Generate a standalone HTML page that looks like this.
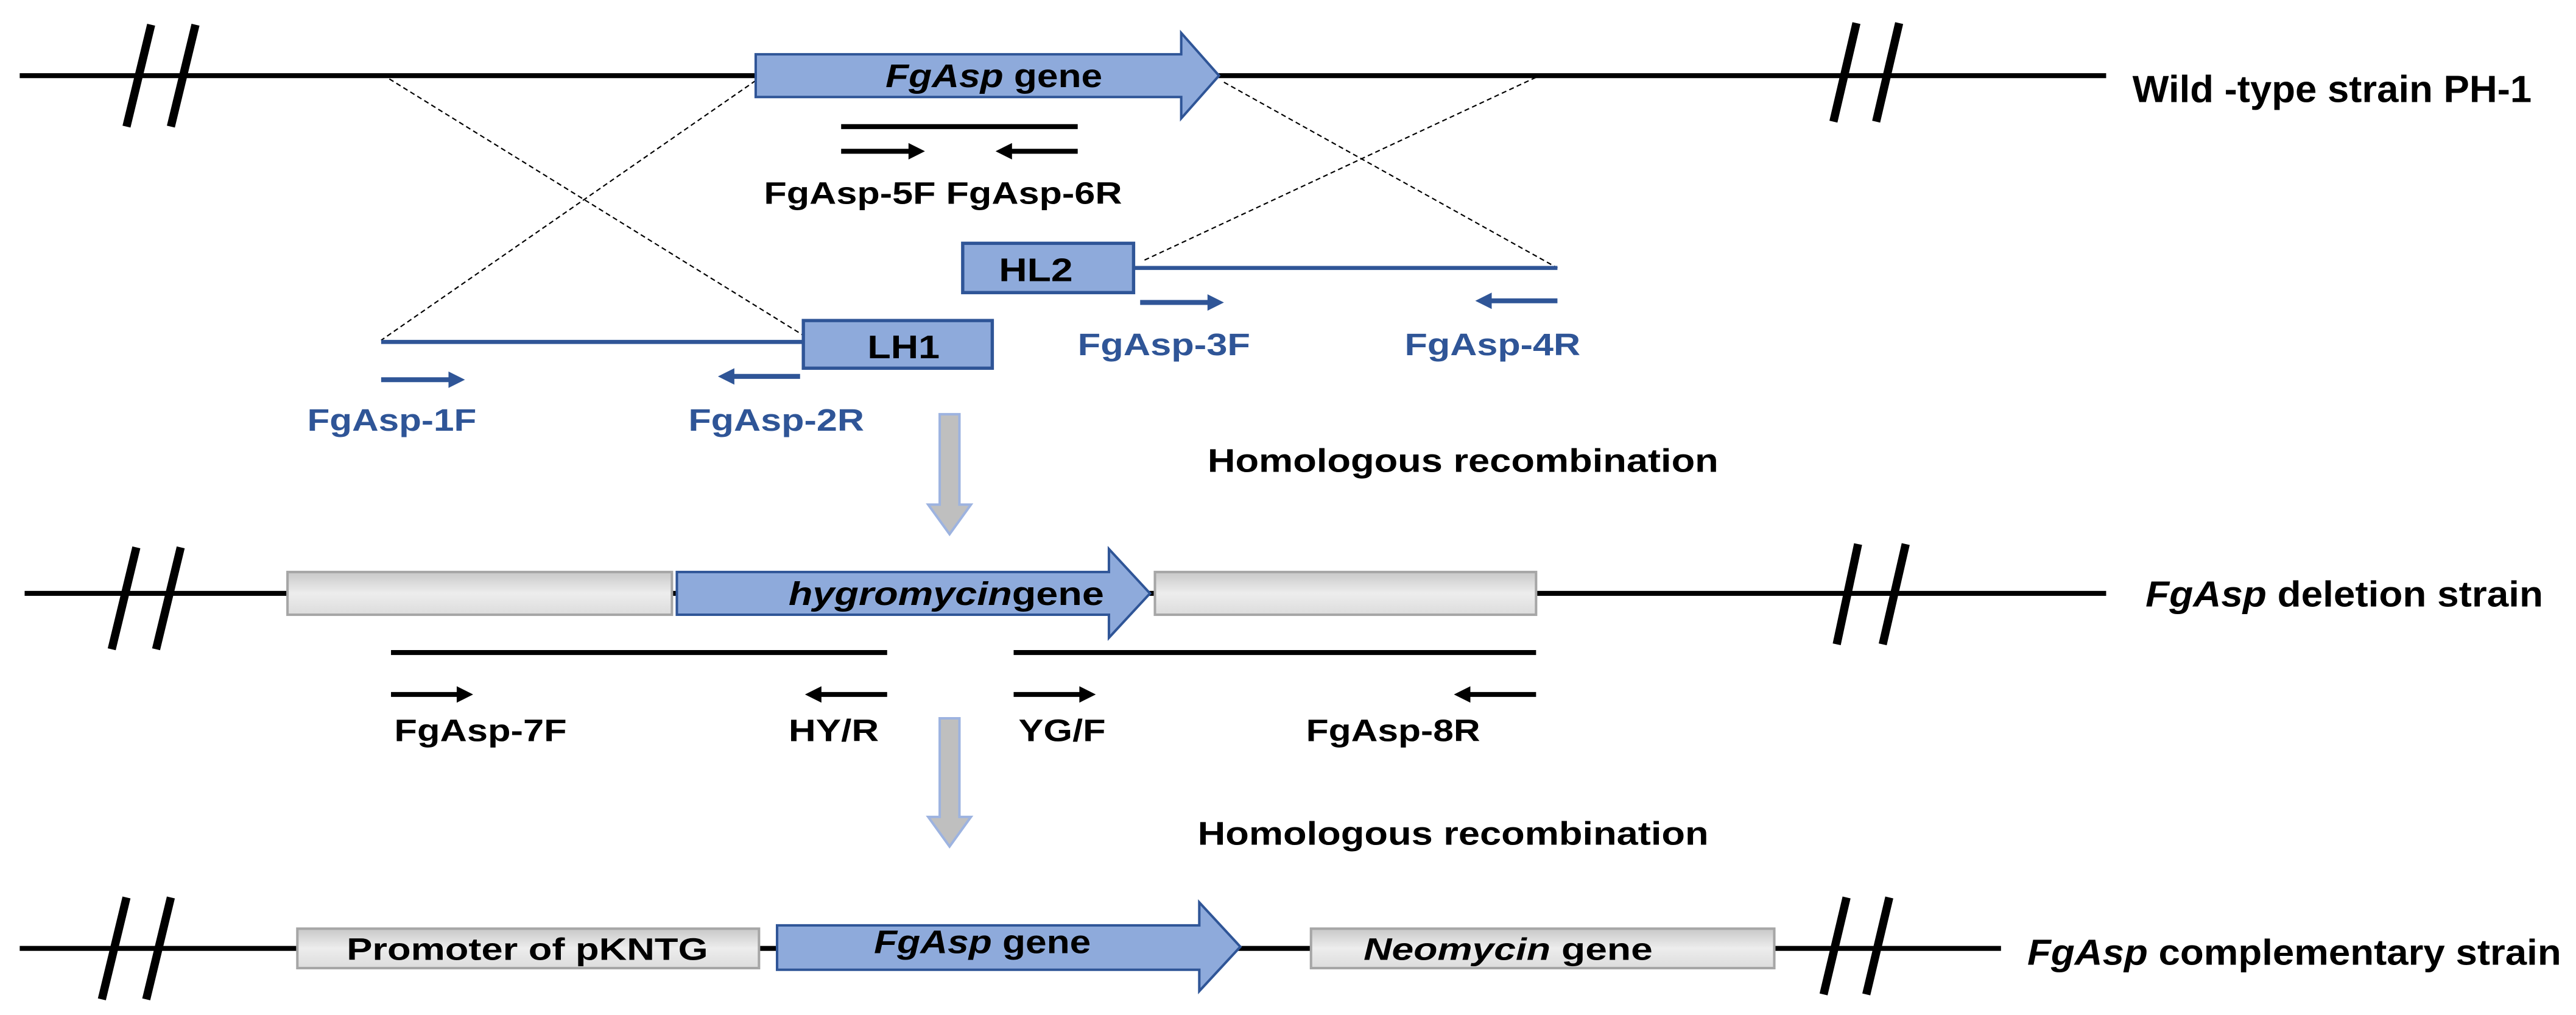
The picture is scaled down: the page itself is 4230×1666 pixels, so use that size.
<!DOCTYPE html>
<html><head><meta charset="utf-8"><style>
html,body{margin:0;padding:0;background:#fff;}
svg{display:block;}
text{font-family:"Liberation Sans",sans-serif;font-weight:bold;}
</style></head><body>
<svg width="4230" height="1666" viewBox="0 0 1568 617.5" xmlns="http://www.w3.org/2000/svg">
<defs>
<linearGradient id="gg" x1="0" y1="0" x2="0" y2="1"><stop offset="0" stop-color="#c8c8c8"/><stop offset="0.5" stop-color="#ededed"/><stop offset="1" stop-color="#dcdcdc"/></linearGradient>
</defs>
<!-- Row 1 -->
<line x1="12" y1="46" x2="1282" y2="46" stroke="#000" stroke-width="3"/>
<g stroke="#000" stroke-width="5">
<line x1="92" y1="15" x2="77" y2="77"/><line x1="119" y1="15" x2="104" y2="77"/>
<line x1="1130" y1="14" x2="1116" y2="74"/><line x1="1156" y1="14" x2="1142" y2="74"/>
</g>
<g stroke="#000" stroke-width="0.8" stroke-dasharray="3,2" fill="none">
<line x1="237" y1="48" x2="489" y2="204"/><line x1="460" y1="49" x2="232" y2="207"/>
<line x1="745" y1="50" x2="948" y2="163"/><line x1="935" y1="47" x2="695" y2="159"/>
</g>
<polygon points="460,33 719,33 719,20 742,46 719,72 719,59 460,59" fill="#8eaadb" stroke="#2f5597" stroke-width="1.5"/>
<text x="605" y="53" font-size="20" text-anchor="middle" textLength="132" lengthAdjust="spacingAndGlyphs"><tspan font-style="italic">FgAsp</tspan> gene</text>
<line x1="512" y1="77" x2="656" y2="77" stroke="#000" stroke-width="3"/>
<g stroke="#000" stroke-width="3" fill="#000">
<line x1="512" y1="92" x2="556" y2="92"/><polygon points="553,87 563,92 553,97" stroke="none"/>
<line x1="613" y1="92" x2="656" y2="92"/><polygon points="616,87 606,92 616,97" stroke="none"/>
</g>
<text x="465" y="124" font-size="19" textLength="218" lengthAdjust="spacingAndGlyphs">FgAsp-5F FgAsp-6R</text>
<line x1="690" y1="163" x2="948" y2="163" stroke="#2f5597" stroke-width="2.5"/>
<rect x="586" y="148" width="104" height="30" fill="#8eaadb" stroke="#2f5597" stroke-width="2"/>
<text x="608" y="171" font-size="20" textLength="45" lengthAdjust="spacingAndGlyphs">HL2</text>
<line x1="232" y1="208" x2="489" y2="208" stroke="#2f5597" stroke-width="2.5"/>
<rect x="489" y="195" width="115" height="29" fill="#8eaadb" stroke="#2f5597" stroke-width="2"/>
<text x="528" y="218" font-size="20" textLength="44" lengthAdjust="spacingAndGlyphs">LH1</text>
<g stroke="#2f5597" stroke-width="3" fill="#2f5597">
<line x1="232" y1="231" x2="276" y2="231"/><polygon points="273,226 283,231 273,236" stroke="none"/>
<line x1="444" y1="229" x2="487" y2="229"/><polygon points="447,224 437,229 447,234" stroke="none"/>
<line x1="694" y1="184" x2="738" y2="184"/><polygon points="735,179 745,184 735,189" stroke="none"/>
<line x1="905" y1="183" x2="948" y2="183"/><polygon points="908,178 898,183 908,188" stroke="none"/>
</g>
<g fill="#2f5597" font-size="19">
<text x="187" y="262" textLength="103" lengthAdjust="spacingAndGlyphs">FgAsp-1F</text>
<text x="419" y="262" textLength="107" lengthAdjust="spacingAndGlyphs">FgAsp-2R</text>
<text x="656" y="216" textLength="105" lengthAdjust="spacingAndGlyphs">FgAsp-3F</text>
<text x="855" y="216" textLength="107" lengthAdjust="spacingAndGlyphs">FgAsp-4R</text>
</g>
<text x="1298" y="62" font-size="23" textLength="243" lengthAdjust="spacingAndGlyphs">Wild -type strain PH-1</text>
<!-- down arrow 1 -->
<polygon points="572,252 584,252 584,307 591,307 578,325 565,307 572,307" fill="#bfbfbf" stroke="#9db3e0" stroke-width="1.5"/>
<text x="735" y="287" font-size="20" textLength="311" lengthAdjust="spacingAndGlyphs">Homologous recombination</text>
<!-- Row 2 -->
<line x1="15" y1="361" x2="1282" y2="361" stroke="#000" stroke-width="3"/>
<g stroke="#000" stroke-width="5">
<line x1="83" y1="333" x2="68" y2="395"/><line x1="110" y1="333" x2="95" y2="395"/>
<line x1="1131" y1="331" x2="1118" y2="392"/><line x1="1160" y1="331" x2="1146" y2="392"/>
</g>
<rect x="175" y="348" width="234" height="26" fill="url(#gg)" stroke="#a6a6a6" stroke-width="1.5"/>
<rect x="703" y="348" width="232" height="26" fill="url(#gg)" stroke="#a6a6a6" stroke-width="1.5"/>
<polygon points="412,348 675,348 675,334 700,361 675,388 675,374 412,374" fill="#8eaadb" stroke="#2f5597" stroke-width="1.5"/>
<text x="480" y="368" font-size="20" textLength="192" lengthAdjust="spacingAndGlyphs"><tspan font-style="italic">hygromycin</tspan>gene</text>
<line x1="238" y1="397" x2="540" y2="397" stroke="#000" stroke-width="3"/>
<line x1="617" y1="397" x2="935" y2="397" stroke="#000" stroke-width="3"/>
<g stroke="#000" stroke-width="3" fill="#000">
<line x1="238" y1="422.5" x2="281" y2="422.5"/><polygon points="278,417.5 288,422.5 278,427.5" stroke="none"/>
<line x1="497" y1="422.5" x2="540" y2="422.5"/><polygon points="500,417.5 490,422.5 500,427.5" stroke="none"/>
<line x1="617" y1="422.5" x2="660" y2="422.5"/><polygon points="657,417.5 667,422.5 657,427.5" stroke="none"/>
<line x1="892" y1="422.5" x2="935" y2="422.5"/><polygon points="895,417.5 885,422.5 895,427.5" stroke="none"/>
</g>
<g font-size="19">
<text x="240" y="451" textLength="105" lengthAdjust="spacingAndGlyphs">FgAsp-7F</text>
<text x="480" y="451" textLength="55" lengthAdjust="spacingAndGlyphs">HY/R</text>
<text x="620" y="451" textLength="53" lengthAdjust="spacingAndGlyphs">YG/F</text>
<text x="795" y="451" textLength="106" lengthAdjust="spacingAndGlyphs">FgAsp-8R</text>
</g>
<text x="1306" y="369" font-size="22" textLength="242" lengthAdjust="spacingAndGlyphs"><tspan font-style="italic">FgAsp</tspan> deletion strain</text>
<!-- down arrow 2 -->
<polygon points="572,437 584,437 584,497 591,497 578,515 565,497 572,497" fill="#bfbfbf" stroke="#9db3e0" stroke-width="1.5"/>
<text x="729" y="514" font-size="20" textLength="311" lengthAdjust="spacingAndGlyphs">Homologous recombination</text>
<!-- Row 3 -->
<line x1="12" y1="577" x2="1218" y2="577" stroke="#000" stroke-width="3"/>
<g stroke="#000" stroke-width="5">
<line x1="77" y1="546" x2="62" y2="608"/><line x1="104" y1="546" x2="89" y2="608"/>
<line x1="1124" y1="546" x2="1110" y2="605"/><line x1="1150" y1="546" x2="1136" y2="605"/>
</g>
<rect x="181" y="565" width="281" height="24" fill="url(#gg)" stroke="#a6a6a6" stroke-width="1.5"/>
<text x="321" y="584" font-size="19" text-anchor="middle" textLength="220" lengthAdjust="spacingAndGlyphs">Promoter of pKNTG</text>
<rect x="798" y="565" width="282" height="24" fill="url(#gg)" stroke="#a6a6a6" stroke-width="1.5"/>
<text x="830" y="584" font-size="19" textLength="176" lengthAdjust="spacingAndGlyphs"><tspan font-style="italic">Neomycin</tspan> gene</text>
<polygon points="473,563 730,563 730,549 755,576 730,603 730,590 473,590" fill="#8eaadb" stroke="#2f5597" stroke-width="1.5"/>
<text x="598" y="580" font-size="20" text-anchor="middle" textLength="132" lengthAdjust="spacingAndGlyphs"><tspan font-style="italic">FgAsp</tspan> gene</text>
<text x="1234" y="587" font-size="22" textLength="325" lengthAdjust="spacingAndGlyphs"><tspan font-style="italic">FgAsp</tspan> complementary strain</text>
</svg>
</body></html>
